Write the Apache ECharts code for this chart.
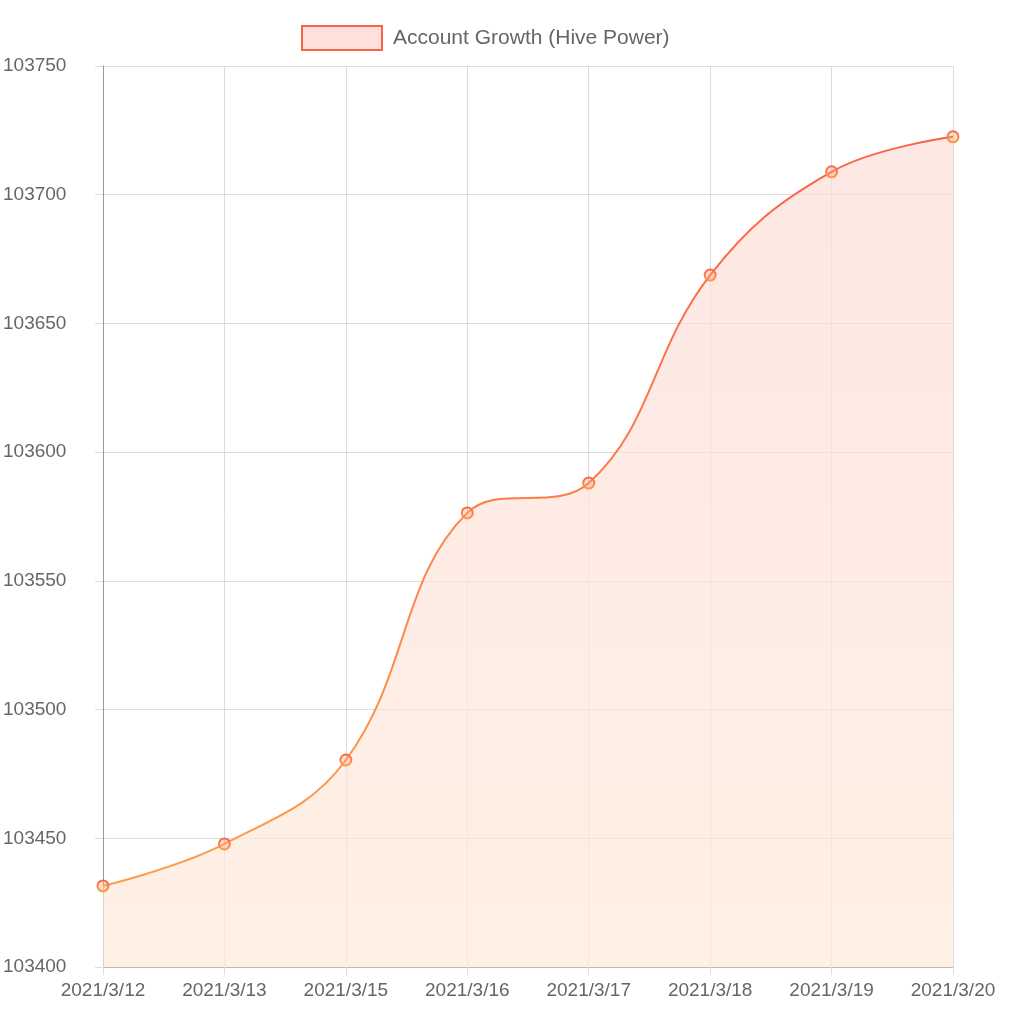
<!DOCTYPE html>
<html><head><meta charset="utf-8">
<script src="https://cdn.jsdelivr.net/npm/echarts@6/dist/echarts.min.js"></script>
<style>html,body{margin:0;padding:0;background:#fff}#c{width:1022px;height:1032px}</style>
</head><body><div id="c"></div>
<script>
const categories = ['2021/3/12','2021/3/13','2021/3/15','2021/3/16','2021/3/17','2021/3/18','2021/3/19','2021/3/20'];
const hivePower = [103431.5,103447.8,103480.4,103576.4,103588,103668.8,103708.9,103722.5];
const seriesName = 'Account Growth (Hive Power)';
const chart = echarts.init(document.getElementById('c'));
const font = 'Helvetica, "Liberation Sans", Arial, sans-serif';
chart.setOption({
  animation:false,
  textStyle:{fontFamily:font},
  legend:{top:20,left:296,itemWidth:80,itemHeight:24,itemGap:10,
    textStyle:{color:'#666',fontSize:21,fontFamily:font,padding:[0,0,0,6]},
    data:[{name:seriesName,icon:'rect',itemStyle:{color:'rgba(255,99,71,0.2)',borderColor:'#f96449',borderWidth:2}}]},
  grid:{left:100,right:69,top:66,bottom:65,containLabel:false},
  xAxis:{type:'category',data:categories,boundaryGap:false,
    axisLine:{lineStyle:{color:'#bbb'}},axisTick:{show:true,length:8,lineStyle:{color:'#ddd'}},
    axisLabel:{color:'#666',fontSize:19,margin:14,interval:0,fontFamily:font},
    splitLine:{show:true,lineStyle:{color:'#dcdcdc'}}},
  yAxis:{type:'value',min:103400,max:103750,interval:50,
    axisLine:{show:true,lineStyle:{color:'#999'}},axisTick:{show:true,length:8,lineStyle:{color:'#ddd'}},
    axisLabel:{color:'#666',fontSize:19,margin:100,fontFamily:font,verticalAlign:'middle',align:'left',formatter:v=>String(v)},
    splitLine:{lineStyle:{color:'#dcdcdc'}}},
  series:[{name:seriesName,type:'line',data:hivePower,smooth:0.4,
    symbol:'circle',symbolSize:11,
    lineStyle:{width:2,color:new echarts.graphic.LinearGradient(0,0,0,1,[{offset:0,color:'#f9614a'},{offset:1,color:'#fd9e48'}])},
    itemStyle:{color:'rgba(255,160,120,0.35)',borderWidth:2,borderColor:new echarts.graphic.LinearGradient(0,0,0,1,[{offset:0,color:'#f9614a'},{offset:1,color:'#fd9e48'}])},
    areaStyle:{origin:'start',color:new echarts.graphic.LinearGradient(0,0,0,1,[{offset:0,color:'rgba(252,220,215,1)'},{offset:1,color:'rgba(253,234,218,1)'}])}
  }]
});
</script></body></html>
